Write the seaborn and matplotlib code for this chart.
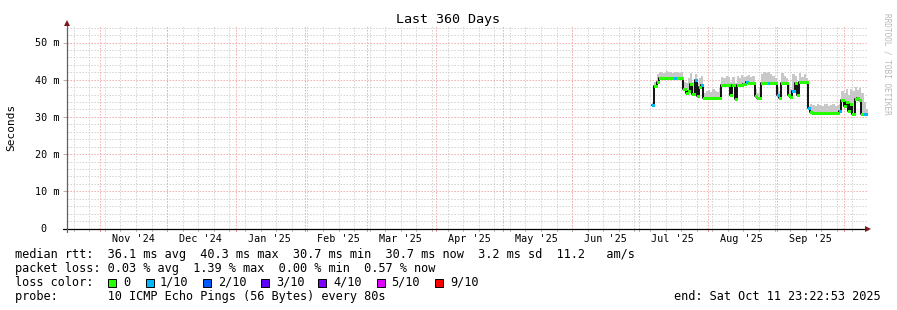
import numpy as np
import pandas as pd
import matplotlib
matplotlib.use("Agg")
import matplotlib.pyplot as plt
import seaborn as sns
from matplotlib.lines import Line2D
from matplotlib.patches import Rectangle

# ---------------- data ----------------
first_day = "2025-07-07"
median_ms = [33.3, 38.4, 39.5, 40.5, 40.5, 40.5, 40.5, 40.5, 40.5, 40.5, 40.5, 40.5, 40.5, 40.5,
             37.5, 36.5, 37.0, 38.8, 36.2, 40.0, 35.5, 38.0, 38.5,
             35.0, 35.0, 35.0, 35.0, 35.0, 35.0, 35.0, 35.0,
             38.7, 38.7, 38.7, 38.7, 35.8, 38.5, 34.8, 38.7, 38.7, 38.7, 38.9, 39.4, 39.1, 39.1, 39.1,
             35.5, 35.1, 35.1,
             39.1, 39.1, 39.1, 39.1, 39.1, 39.1, 39.1,
             35.8, 35.1,
             39.1, 39.1, 39.1,
             36.0, 35.3, 37.0, 39.1, 36.0,
             39.5, 39.5, 39.5, 39.5,
             32.5, 31.3, 31.0, 31.0, 31.0, 31.0, 31.0, 31.0, 31.0, 31.0, 31.0, 31.0, 31.0, 31.0, 31.5,
             34.5, 33.0, 34.0, 31.5, 33.5, 30.9, 34.8, 35.0, 34.5, 30.9, 30.9, 30.7]
smoke_top_ms = [34.0, 39.5, 41.5, 42.0, 42.2, 41.8, 42.3, 42.0, 42.1, 41.9, 42.2, 42.0, 41.8, 42.0,
                39.5, 39.0, 40.5, 41.8, 39.5, 41.5, 39.0, 40.5, 41.0,
                36.5, 37.0, 37.2, 36.8, 37.5, 37.0, 36.6, 37.8,
                40.8, 40.5, 41.0, 40.6, 39.5, 40.8, 39.0, 41.0, 40.5, 41.2, 40.8, 41.0, 41.2, 40.6, 41.0,
                37.5, 36.5, 38.0,
                41.5, 42.0, 41.8, 42.2, 41.5, 41.0, 40.5,
                38.0, 37.0,
                41.8, 41.0, 40.5,
                38.5, 37.5, 41.5, 41.0, 38.0,
                41.8, 40.8, 41.5, 40.5,
                33.0, 33.5, 33.2, 33.0, 33.6, 33.2, 33.0, 33.5, 33.4, 32.8, 33.3, 33.6, 33.0, 33.2, 33.5,
                37.0, 36.5, 37.5, 36.0, 37.5, 37.0, 38.0, 37.2, 37.8, 36.5, 34.0, 32.0]
loss_count = [1, 0, 0, 0, 0, 0, 0, 0, 0, 0, 1, 0, 0, 0,
              0, 0, 0, 0, 0, 1, 0, 0, 1,
              0, 0, 0, 0, 0, 0, 0, 0,
              0, 0, 0, 0, 0, 0, 0, 0, 0, 0, 0, 1, 0, 0, 0,
              0, 0, 0,
              0, 0, 0, 1, 0, 0, 0,
              1, 0,
              0, 0, 0,
              0, 0, 1, 0, 0,
              0, 0, 0, 0,
              1, 0, 0, 0, 0, 0, 0, 0, 0, 0, 0, 0, 0, 0, 1,
              0, 0, 0, 0, 0, 0, 0, 0, 0, 0, 1, 1]

month_labels = ["Nov '24", "Dec '24", "Jan '25", "Feb '25", "Mar '25", "Apr '25",
                "May '25", "Jun '25", "Jul '25", "Aug '25", "Sep '25"]
y_ticks = [0, 10, 20, 30, 40, 50]
y_labels = ["0  ", "10 m", "20 m", "30 m", "40 m", "50 m"]

loss_names = ["0", "1/10", "2/10", "3/10", "4/10", "5/10", "9/10"]
loss_colors = ["#26ff00", "#00b8ff", "#0059ff", "#5e00ff", "#7e00ff", "#dd00ff", "#ff0000"]

legend_lines = [
    "median rtt:  36.1 ms avg  40.3 ms max  30.7 ms min  30.7 ms now  3.2 ms sd  11.2   am/s",
    "packet loss: 0.03 % avg  1.39 % max  0.00 % min  0.57 % now",
]
probe_line = "probe:       10 ICMP Echo Pings (56 Bytes) every 80s"
end_line = "end: Sat Oct 11 23:22:53 2025"
title = "Last 360 Days"

t_start = pd.Timestamp("2024-10-16 23:22:53")
t_end = pd.Timestamp("2025-10-11 23:22:53")

# ---------------- setup ----------------
sns.set_theme(style="white")
plt.rcParams["font.family"] = ["DejaVu Sans Mono", "DejaVu Sans"]
plt.rcParams["axes.facecolor"] = "white"
plt.rcParams["figure.facecolor"] = "white"

W, H = 897, 310
fig = plt.figure(figsize=(W / 100, H / 100), dpi=100)
y0_px, ytop_px, x0_px, x1_px = 228.5, 25, 67, 868
ax = fig.add_axes([x0_px / W, 1 - y0_px / H, (x1_px - x0_px) / W, (y0_px - ytop_px) / H])

def fx(px):
    return px / W

def fy(py):
    return 1 - py / H

dates = pd.date_range(first_day, periods=len(median_ms), freq="D")
df = pd.DataFrame({"date": dates, "median": median_ms, "smoke": smoke_top_ms, "loss": loss_count})

# edges for step drawing (last step runs to end of graph)
edge_dates = list(df["date"]) + [t_end]
med_edges = list(df["median"]) + [df["median"].iloc[-1]]
smk_edges = list(df["smoke"]) + [df["smoke"].iloc[-1]]

ax.set_xlim(t_start, t_end)
ax.set_ylim(0, (y0_px - ytop_px) / 3.72)

# ---------------- grid ----------------
minor_gray = "#d2d2d2"
major_red = "#f4a8a8"
dots = (0, (1.4, 1.6))
weeks = pd.date_range("2024-10-20", t_end, freq="7D")
months = pd.date_range("2024-11-01", t_end, freq="MS")
for w in weeks:
    ax.axvline(w, color=minor_gray, lw=0.72, ls=dots, zorder=1)
for yv in range(2, 55, 2):
    if yv % 10:
        ax.axhline(yv, color=minor_gray, lw=0.72, ls=dots, zorder=1)
for m in months:
    ax.axvline(m, color=major_red, lw=0.72, ls=dots, zorder=1.2)
for yv in range(10, 55, 10):
    ax.axhline(yv, color=major_red, lw=0.72, ls=dots, zorder=1.2)

# ---------------- data marks ----------------
ax.fill_between(edge_dates, med_edges, smk_edges, step="post", color="#c8c8c8", lw=0, zorder=2)
sns.lineplot(x=edge_dates, y=med_edges, drawstyle="steps-post", color="black", lw=1.3,
             ax=ax, zorder=3)

def loss_color(n):
    if n == 0:
        return loss_colors[0]
    if n <= 4:
        return loss_colors[n]
    if n <= 8:
        return loss_colors[5]
    return loss_colors[6]

seg_colors = [loss_color(n) for n in df["loss"]]
segs = ax.hlines(df["median"], edge_dates[:-1], edge_dates[1:], colors=seg_colors, lw=1.8, zorder=4)
segs.set_capstyle("butt")
segs.set_antialiased(False)

# ---------------- axes ----------------
for s in ax.spines.values():
    s.set_visible(False)
ax.grid(False)

mid_months = [pd.Timestamp(f"{d.year}-{d.month:02d}-16")
              for d in pd.date_range("2024-11-01", "2025-09-01", freq="MS")]
ax.set_xticks(mid_months)
ax.set_xticklabels(month_labels)
ax.tick_params(axis="x", length=0, pad=4, labelsize=7.3, labelcolor="black")
ax.set_yticks(y_ticks)
ax.set_yticklabels(y_labels)
ax.tick_params(axis="y", length=3, width=0.7, color="#b0b0b0", pad=2.2, labelsize=7.3,
               labelcolor="black", left=True)

# axis lines and arrows
fig.add_artist(Line2D([fx(63), fx(868)], [fy(228.5), fy(228.5)], color="black", lw=0.9))
fig.add_artist(Line2D([fx(67), fx(67)], [fy(232), fy(24)], color="#606060", lw=0.9))
fig.add_artist(Line2D([fx(868)], [fy(228.5)], marker=">", ms=4, color="#7a1a1a", mew=0))
fig.add_artist(Line2D([fx(67)], [fy(22.5)], marker="^", ms=4, color="#7a1a1a", mew=0))
# small ticks under x axis
for m in months:
    ax.plot([m, m], [0, -0.8], color="#e88080", lw=0.7, clip_on=False, zorder=5)
for w in weeks:
    ax.plot([w, w], [0, -0.6], color="#b0b0b0", lw=0.7, clip_on=False, zorder=5)

# ---------------- text ----------------
fig.text(fx(448), fy(19), title, ha="center", va="center", fontsize=9.6, color="black")
fig.text(fx(11), fy(127), "Seconds", rotation=90, ha="center", va="center", fontsize=8.0,
         color="black")
fig.text(fx(886.5), fy(64), "RRDTOOL / TOBI OETIKER", rotation=270, ha="center", va="center",
         fontsize=5.6, color="#b8b8b8")

LS = 8.55
fig.text(fx(15), fy(254.3), legend_lines[0], ha="left", va="center", fontsize=LS, color="black")
fig.text(fx(15), fy(268.3), legend_lines[1], ha="left", va="center", fontsize=LS, color="black")
fig.text(fx(15), fy(282.3), "loss color:", ha="left", va="center", fontsize=LS, color="black")
sq_x = [108, 146, 203, 261, 318, 377, 435]
lab_x = [123, 160, 218, 276, 333, 391, 450]
for sx, lx, name, col in zip(sq_x, lab_x, loss_names, loss_colors):
    fig.add_artist(Rectangle((fx(sx), fy(286.5)), 8 / W, 8 / H, facecolor=col,
                             edgecolor="black", lw=0.7, transform=fig.transFigure))
    fig.text(fx(lx), fy(282.3), name, ha="left", va="center", fontsize=LS, color="black")
fig.text(fx(15), fy(296.3), probe_line, ha="left", va="center", fontsize=LS, color="black")
fig.text(fx(881), fy(296.3), end_line, ha="right", va="center", fontsize=LS, color="black")

fig.savefig("out.png", dpi=100)
